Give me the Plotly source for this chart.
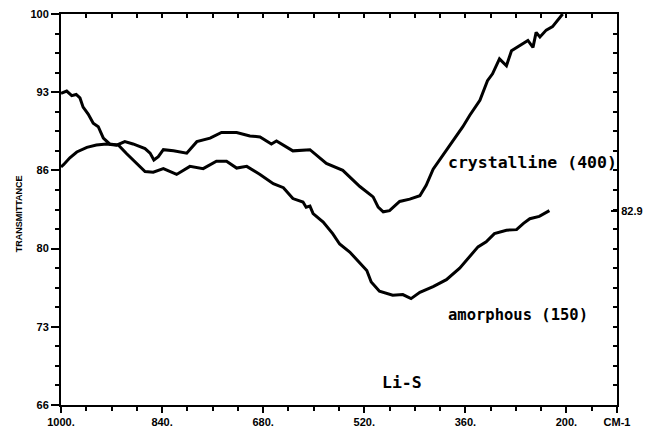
import plotly.graph_objects as go

# ---- data ----
cryst_x = [1000, 996, 986, 975, 959, 944, 928, 912, 899, 886, 867, 859, 853, 846, 838, 822, 801, 785,
           764, 746, 722, 701, 685, 667, 659, 643, 633, 606, 593, 580, 554, 543, 527, 506, 498, 490,
           480, 464, 448, 432, 422, 411, 396, 380, 364, 353, 337, 325, 317, 306, 295, 287, 269, 261,
           253, 248, 242, 232, 222, 206]
cryst_y = [86.7, 86.9, 87.5, 88.0, 88.4, 88.6, 88.7, 88.6, 88.9, 88.7, 88.3, 87.9, 87.3, 87.6, 88.2,
           88.1, 87.9, 88.9, 89.2, 89.7, 89.7, 89.4, 89.3, 88.7, 88.95, 88.4, 88.1, 88.2, 87.6, 87.0,
           86.4, 85.8, 85.0, 84.1, 83.2, 82.8, 82.9, 83.7, 83.9, 84.2, 85.1, 86.5, 87.7, 89.0, 90.2,
           91.2, 92.5, 94.2, 94.8, 96.1, 95.5, 96.8, 97.4, 97.7, 97.1, 98.4, 98.0, 98.6, 98.9, 100.0]

amor_x = [1000, 991, 983, 976, 970, 965, 957, 949, 941, 933, 923, 909, 896, 880, 867, 854, 838, 817,
          796, 775, 754, 738, 722, 706, 685, 664, 648, 633, 617, 612, 606, 601, 585, 570, 559, 543,
          527, 516, 509, 496, 475, 459, 446, 432, 411, 390, 369, 353, 340, 327, 314, 295, 279, 268,
          258, 243, 227]
amor_y = [93.1, 93.3, 92.9, 93.0, 92.7, 91.9, 91.3, 90.5, 90.2, 89.2, 88.7, 88.6, 87.85, 87.0, 86.3,
          86.25, 86.55, 86.05, 86.75, 86.55, 87.2, 87.2, 86.6, 86.75, 86.05, 85.25, 84.9, 83.95,
          83.65, 83.2, 83.3, 82.65, 81.9, 80.9, 80.0, 79.3, 78.3, 77.7, 76.7, 75.9, 75.55, 75.6,
          75.25, 75.8, 76.3, 76.9, 77.9, 78.9, 79.75, 80.2, 80.9, 81.2, 81.25, 81.8, 82.2, 82.4, 82.9]

x_tickvals = [1000, 840, 680, 520, 360, 200, 120]
x_ticktext = ["1000.", "840.", "680.", "520.", "360.", "200.", "CM-1"]
y_tickvals = [66, 72.8, 79.6, 86.4, 93.2, 100]
y_ticktext = ["66", "73", "80", "86", "93", "100"]
right_val = [82.9]
right_txt = ["82.9"]
X_MINOR_STEP = 40
Y_MINOR_STEP = 1.7

X_RANGE = [1000, 120]
Y_RANGE = [66, 100]


def bold(labels):
    return ["<b>%s</b>" % t for t in labels]


tick_font = dict(family="Liberation Sans", size=11, color="black")
mono = dict(family="DejaVu Sans Mono", size=16.5, color="black")
axis_common = dict(showline=True, linewidth=2, linecolor="black", showgrid=False,
                   zeroline=False, tickwidth=2, tickcolor="black")

fig = go.Figure()
fig.add_trace(go.Scatter(x=cryst_x, y=cryst_y, mode="lines",
                         line=dict(color="black", width=3), showlegend=False, hoverinfo="skip"))
fig.add_trace(go.Scatter(x=amor_x, y=amor_y, mode="lines",
                         line=dict(color="black", width=3), showlegend=False, hoverinfo="skip"))
# transparent trace that activates the top/right frame axes
fig.add_trace(go.Scatter(x=[X_RANGE[0]], y=[Y_RANGE[0]], xaxis="x2", yaxis="y2", mode="markers",
                         marker=dict(opacity=0), showlegend=False, hoverinfo="skip"))

fig.update_layout(
    width=648, height=431,
    margin=dict(l=60, r=30, t=13, b=25),
    paper_bgcolor="white", plot_bgcolor="white",
    xaxis=dict(range=X_RANGE, tickmode="array", tickvals=x_tickvals, ticktext=bold(x_ticktext),
               ticks="outside", ticklen=6, tickfont=tick_font, automargin="left+right",
               minor=dict(tick0=1000, dtick=X_MINOR_STEP, ticks="outside",
                          ticklen=4, tickwidth=2, tickcolor="black", showgrid=False),
               **axis_common),
    yaxis=dict(range=Y_RANGE, tickmode="array", tickvals=y_tickvals, ticktext=bold(y_ticktext),
               ticks="outside", ticklen=8, tickfont=tick_font, automargin="left",
               minor=dict(tick0=66, dtick=Y_MINOR_STEP, ticks="outside",
                          ticklen=4, tickwidth=2, tickcolor="black", showgrid=False),
               **axis_common),
    xaxis2=dict(range=X_RANGE, overlaying="x", side="top", anchor="y", automargin=False,
                tick0=1000, dtick=X_MINOR_STEP, ticks="inside", ticklen=4,
                showticklabels=False, **axis_common),
    yaxis2=dict(range=Y_RANGE, overlaying="y", side="right", anchor="x", automargin=False,
                tickmode="array", tickvals=right_val, ticktext=bold(right_txt), ticks="inside",
                ticklen=6, tickfont=dict(family="Liberation Sans", size=11, color="black"),
                minor=dict(tick0=66, dtick=Y_MINOR_STEP, ticks="inside",
                           ticklen=4, tickwidth=2, tickcolor="black", showgrid=False),
                **axis_common),
    annotations=[
        dict(text="<b>TRANSMITTANCE</b>", xref="paper", yref="paper", x=-0.074, y=0.49,
             textangle=-90, showarrow=False, xanchor="center", yanchor="middle",
             font=dict(family="Liberation Sans", size=9, color="black")),
        dict(text="<b>crystalline (400)</b>", x=390, y=87.1, xref="x", yref="y", showarrow=False,
             xanchor="left", yanchor="middle", font=mono),
        dict(text="<b>amorphous (150)</b>", x=390, y=73.8, xref="x", yref="y", showarrow=False,
             xanchor="left", yanchor="middle", font=dict(family="DejaVu Sans Mono", size=15.5,
                                                          color="black")),
        dict(text="<b>Li-S</b>", x=461, y=68.0, xref="x", yref="y", showarrow=False,
             xanchor="center", yanchor="middle", font=mono),
    ],
)

# final margins applied after the first draw (forces a full redraw of the axes)
post = (
    "document.body.style.margin='0px';document.body.style.overflow='hidden';"
    "var gd=document.getElementById('{plot_id}');"
    "Plotly.relayout(gd,{'margin.l':61,'margin.r':31,'margin.t':14,'margin.b':26});"
)

fig.write_html("out.html", config={"displayModeBar": False}, post_script=post)
